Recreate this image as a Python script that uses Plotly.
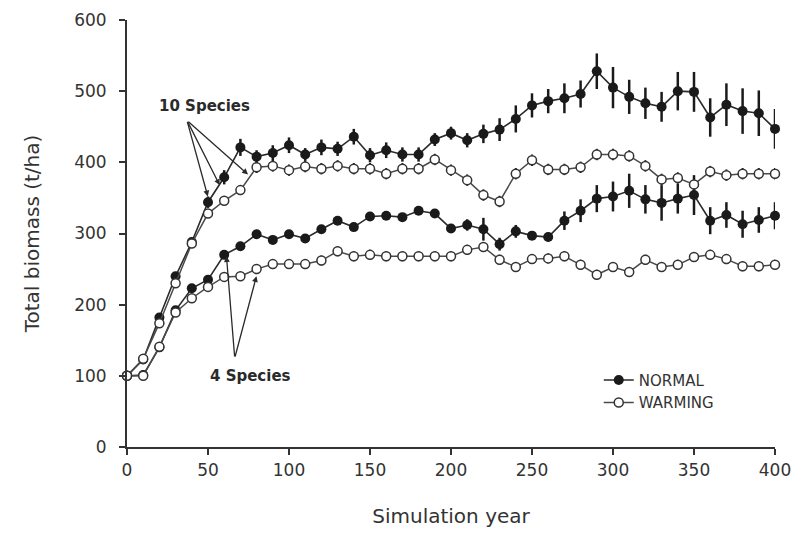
import plotly.graph_objects as go

# ---------------- data ----------------
years = [0, 10, 20, 30, 40, 50, 60, 70, 80, 90, 100, 110, 120, 130, 140, 150, 160, 170, 180, 190,
         200, 210, 220, 230, 240, 250, 260, 270, 280, 290, 300, 310, 320, 330, 340, 350, 360, 370,
         380, 390, 400]

sp10_normal = [100, 123, 182, 240, 288, 344, 379, 421, 408, 413, 424, 411, 421, 419, 436, 410, 417,
               411, 411, 432, 441, 431, 440, 446, 461, 480, 486, 490, 496, 528, 505, 492, 483, 478,
               500, 499, 463, 481, 472, 469, 447]
sp10_normal_err = [2, 3, 4, 6, 6, 8, 10, 12, 9, 11, 11, 9, 11, 10, 11, 10, 11, 10, 10, 9, 9, 10, 13,
                   16, 19, 17, 17, 21, 19, 25, 29, 24, 22, 21, 27, 28, 27, 30, 32, 32, 28]

sp10_warm = [100, 124, 174, 230, 286, 328, 346, 361, 393, 395, 389, 394, 391, 395, 391, 391, 384,
             391, 391, 404, 389, 375, 354, 345, 384, 403, 390, 390, 393, 411, 411, 409, 395, 376,
             378, 369, 387, 382, 384, 384, 384]
sp10_warm_err = [2, 3, 4, 5, 5, 6, 6, 7, 8, 8, 8, 8, 8, 8, 8, 8, 8, 8, 8, 8, 8, 8, 8, 8, 8, 8, 8, 8,
                 8, 8, 8, 8, 8, 8, 8, 8, 8, 8, 8, 8, 8]

sp4_normal = [100, 101, 140, 192, 223, 235, 270, 282, 299, 291, 299, 293, 306, 318, 309, 324, 325,
              323, 332, 328, 307, 312, 306, 285, 303, 297, 295, 318, 332, 349, 352, 360, 348, 343,
              349, 354, 318, 326, 313, 319, 325]
sp4_normal_err = [2, 2, 3, 3, 4, 4, 4, 4, 4, 4, 4, 4, 4, 4, 5, 5, 5, 5, 5, 5, 6, 8, 16, 9, 9, 6, 6,
                  13, 16, 19, 21, 24, 20, 25, 21, 28, 19, 18, 19, 18, 19]

sp4_warm = [100, 100, 141, 189, 209, 225, 239, 240, 250, 257, 257, 257, 262, 275, 268, 270, 268,
            268, 268, 268, 268, 277, 281, 263, 253, 264, 265, 268, 256, 242, 253, 246, 263, 253,
            256, 267, 270, 264, 254, 254, 256]
sp4_warm_err = [2, 2, 3, 4, 5, 6, 6, 6, 7, 7, 7, 7, 7, 7, 7, 7, 7, 7, 7, 7, 7, 7, 7, 7, 7, 7, 7, 7,
                7, 7, 7, 7, 7, 7, 7, 7, 7, 7, 7, 7, 7]

x_ticks = [0, 50, 100, 150, 200, 250, 300, 350, 400]
y_ticks = [0, 100, 200, 300, 400, 500, 600]

FONT = "DejaVu Sans"
AX = "#333333"

fig = go.Figure()


def warm_trace(y, err, show):
    return go.Scatter(
        x=years, y=y, mode="lines+markers", name="WARMING", showlegend=show, legendrank=2,
        line=dict(color="#4a4a4a", width=1.5),
        marker=dict(symbol="circle", size=9, color="white", line=dict(color="#333333", width=1.5)),
        error_y=dict(type="data", array=err, color="#1a1a1a", thickness=2, width=0),
        cliponaxis=False,
    )


def normal_trace(y, err, show):
    return go.Scatter(
        x=years, y=y, mode="lines+markers", name="NORMAL", showlegend=show, legendrank=1,
        line=dict(color="#2a2a2a", width=1.6),
        marker=dict(symbol="circle", size=10, color="#1a1a1a", line=dict(color="#1a1a1a", width=0)),
        error_y=dict(type="data", array=err, color="#1a1a1a", thickness=2.5, width=0),
        cliponaxis=False,
    )


fig.add_trace(normal_trace(sp4_normal, sp4_normal_err, False))
fig.add_trace(warm_trace(sp4_warm, sp4_warm_err, False))
fig.add_trace(normal_trace(sp10_normal, sp10_normal_err, True))
fig.add_trace(warm_trace(sp10_warm, sp10_warm_err, True))

# ---------------- annotations ----------------
annotations = [
    dict(x=47.8, y=479, text="<b>10 Species</b>", showarrow=False,
         font=dict(family=FONT, size=15, color="#2a2a2a")),
    dict(x=76.4, y=100, text="<b>4 Species</b>", showarrow=False,
         font=dict(family=FONT, size=15, color="#2a2a2a")),
]
arrow_tail_10 = (37.0, 459)
arrow_tips_10 = [(49.9, 352), (57.2, 368), (74.7, 383)]
arrow_tail_4 = (66.5, 125)
arrow_tips_4 = [(61.4, 268), (79.9, 240)]
for tail, tips in ((arrow_tail_10, arrow_tips_10), (arrow_tail_4, arrow_tips_4)):
    for tx, ty in tips:
        annotations.append(dict(
            x=tx, y=ty, ax=tail[0], ay=tail[1], axref="x", ayref="y", xref="x", yref="y",
            text="", showarrow=True, arrowhead=2, arrowsize=0.9, arrowwidth=1.3,
            arrowcolor="#2a2a2a", standoff=0,
        ))

# the page body adds an 8 px offset, so margins are reduced accordingly
fig.update_layout(
    width=806, height=533,
    margin=dict(l=119, r=39, t=12, b=94, autoexpand=False),
    paper_bgcolor="white", plot_bgcolor="white",
    font=dict(family=FONT, color=AX),
    showlegend=True,
    legend=dict(x=0.728, y=0.195, xanchor="left", yanchor="top", bgcolor="rgba(0,0,0,0)",
                font=dict(family=FONT, size=15, color=AX), tracegroupgap=0),
    annotations=annotations,
    xaxis=dict(range=[0, 400], tickvals=x_ticks, showgrid=False, zeroline=False,
               automargin=False,
               showline=True, linecolor=AX, linewidth=2, ticks="outside", ticklen=6,
               tickwidth=2, tickcolor=AX, tickfont=dict(family=FONT, size=17, color=AX),
               ticklabelstandoff=1,
               title=dict(text="Simulation year", font=dict(family=FONT, size=20, color=AX),
                          standoff=30)),
    yaxis=dict(range=[0, 600], tickvals=y_ticks, showgrid=False, zeroline=False,
               automargin=False,
               showline=True, linecolor=AX, linewidth=2, ticks="outside", ticklen=6,
               tickwidth=2, tickcolor=AX, tickfont=dict(family=FONT, size=17, color=AX),
               ticklabelstandoff=9,
               title=dict(text="Total biomass (t/ha)", font=dict(family=FONT, size=20, color=AX),
                          standoff=29)),
)

fig.write_html("out.html")
